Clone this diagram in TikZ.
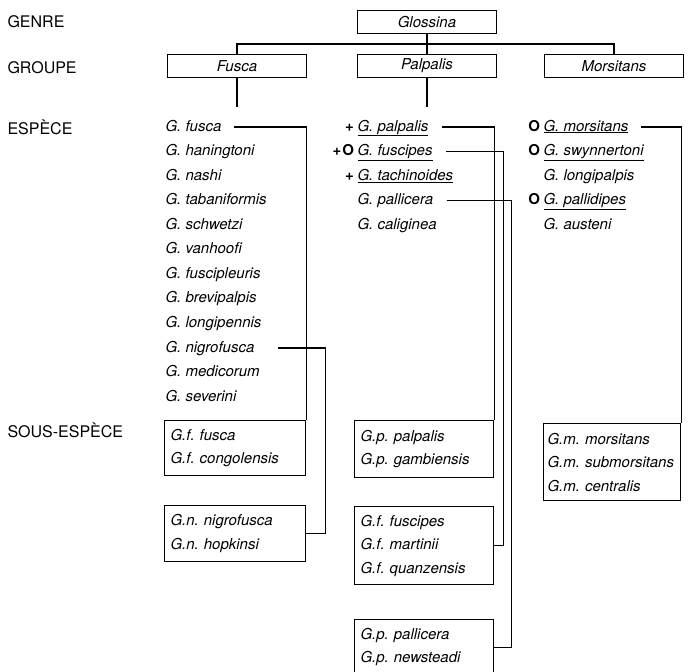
\documentclass[tikz,border=0pt]{standalone}
\usepackage{fontspec}
\setmainfont{TeX Gyre Heros}
\usetikzlibrary{positioning}

\begin{document}
\begin{tikzpicture}[
x=1pt,y=-1pt,
line width=1.1pt,
rank/.style={
  anchor=west,
  font=\fontsize{16}{16}\selectfont,
  text height=11.5pt,
  text depth=0pt,
  inner sep=0pt
},
grp/.style={
  draw,
  font=\fontsize{15}{15}\selectfont\itshape,
  minimum width=139pt,
  minimum height=23pt,
  inner sep=0pt
},
spe/.style={
  font=\fontsize{15}{15}\selectfont\itshape,
  text height=11pt,
  text depth=3pt,
  inner xsep=0pt,
  inner ysep=4.73pt
},
nxt/.style={
  spe,
  below=0pt of #1.south west,
  anchor=north west
},
sigil/.style={
  font=\fontsize{15}{15}\selectfont\upshape\bfseries,
  text height=11pt,
  text depth=3pt,
  inner xsep=2.5pt,
  inner ysep=4.73pt
},
lead/.style={
  label={[sigil]left:#1}
},
sub/.style={
  draw,
  anchor=north west,
  font=\fontsize{15}{23.5}\selectfont\itshape\frenchspacing,
  align=left,
  text width=#1,
  inner xsep=6pt,
  inner ysep=0pt
}
]
\useasboundingbox (0,0) rectangle (697,672);
\clip (0,0) rectangle (697,672);

\node[rank] at (7,22)
  (genre) {GENRE};
\node[rank] at (7,68)
  (groupe) {GROUPE};
\node[rank] at (7,129)
  (espece) {ESPÈCE};
\node[rank] at (7,432)
  (sousespece) {SOUS-ESPÈCE};

\node[grp] at (427,22)
  (glossina) {Glossina};
\node[grp] at (237,66)
  (fusca) {Fusca};
\node[grp] at (427,66)
  (palpalis) {Palpalis};
\node[grp] at (614,66)
  (morsitans) {Morsitans};

\draw (glossina) -- (palpalis);
\draw (fusca.north) -- ++(0,-10) -| (morsitans.north);
\draw[shorten >=8pt] (fusca) -- (fusca |- 0,115);
\draw[shorten >=8pt] (palpalis) -- (palpalis |- 0,115);

\node[spe,anchor=west] at (165,127)
  (gfusca) {G. fusca};
\node[nxt=gfusca]
  (ghaningtoni) {G. haningtoni};
\node[nxt=ghaningtoni]
  (gnashi) {G. nashi};
\node[nxt=gnashi]
  (gtabaniformis) {G. tabaniformis};
\node[nxt=gtabaniformis]
  (gschwetzi) {G. schwetzi};
\node[nxt=gschwetzi]
  (gvanhoofi) {G. vanhoofi};
\node[nxt=gvanhoofi]
  (gfuscipleuris) {G. fuscipleuris};
\node[nxt=gfuscipleuris]
  (gbrevipalpis) {G. brevipalpis};
\node[nxt=gbrevipalpis]
  (glongipennis) {G. longipennis};
\node[nxt=glongipennis]
  (gnigrofusca) {G. nigrofusca};
\node[nxt=gnigrofusca]
  (gmedicorum) {G. medicorum};
\node[nxt=gmedicorum]
  (gseverini) {G. severini};

\node[spe,anchor=west,lead=+] at (357,127)
  (gpalpalis) {\underline{G. palpalis}};
\node[nxt=gpalpalis,lead={+\kern1pt O}]
  (gfuscipes) {\underline{G. fuscipes}};
\node[nxt=gfuscipes,lead=+]
  (gtachinoides) {\underline{G. tachinoides}};
\node[nxt=gtachinoides]
  (gpallicera) {G. pallicera};
\node[nxt=gpallicera]
  (gcaliginea) {G. caliginea};

\node[spe,anchor=west,lead=O] at (543,127)
  (gmorsitans) {\underline{G. morsitans}};
\node[nxt=gmorsitans,lead=O]
  (gswynnertoni) {\underline{G. swynnertoni}};
\node[nxt=gswynnertoni]
  (glongipalpis) {G. longipalpis};
\node[nxt=glongipalpis,lead=O]
  (gpallidipes) {\underline{G. pallidipes}};
\node[nxt=gpallidipes]
  (gausteni) {G. austeni};

\node[sub=129pt,minimum height=55pt] at (164,420)
  (gffusca) {G.f. fusca\\G.f. congolensis};
\node[sub=129pt,minimum height=56pt] at (164,505)
  (gnnigrofusca) {G.n. nigrofusca\\G.n. hopkinsi};
\node[sub=127pt,minimum height=57pt] at (354,420)
  (gppalpalis) {G.p. palpalis\\G.p. gambiensis};
\node[sub=127pt,minimum height=78pt] at (354,506)
  (gffuscipes) {G.f. fuscipes\\G.f. martinii\\G.f. quanzensis};
\node[sub=127pt,minimum height=55pt] at (354,619)
  (gppallicera) {G.p. pallicera\\G.p. newsteadi};
\node[sub=129pt,minimum height=77pt,inner xsep=4pt] at (543,423)
  (gmmorsitans) {G.m. morsitans\\G.m. submorsitans\\G.m. centralis};

\draw[shorten <=12pt] (gfusca.east) -| (gffusca.north east);
\draw[shorten <=23pt] (gnigrofusca.east) -| ([xshift=19pt]gnnigrofusca.east) -- (gnnigrofusca.east);
\draw[shorten <=13pt] (gpalpalis.east) -| (gppalpalis.north east);
\draw[shorten <=13pt] (gfuscipes.east) -| ([xshift=9pt]gffuscipes.east) -- (gffuscipes.east);
\draw[shorten <=13pt] (gpallicera.east) -| ([xshift=17pt]gppallicera.east) -- (gppallicera.east);
\draw[shorten <=12pt] (gmorsitans.east) -| (gmmorsitans.north east);
\end{tikzpicture}
\end{document}
